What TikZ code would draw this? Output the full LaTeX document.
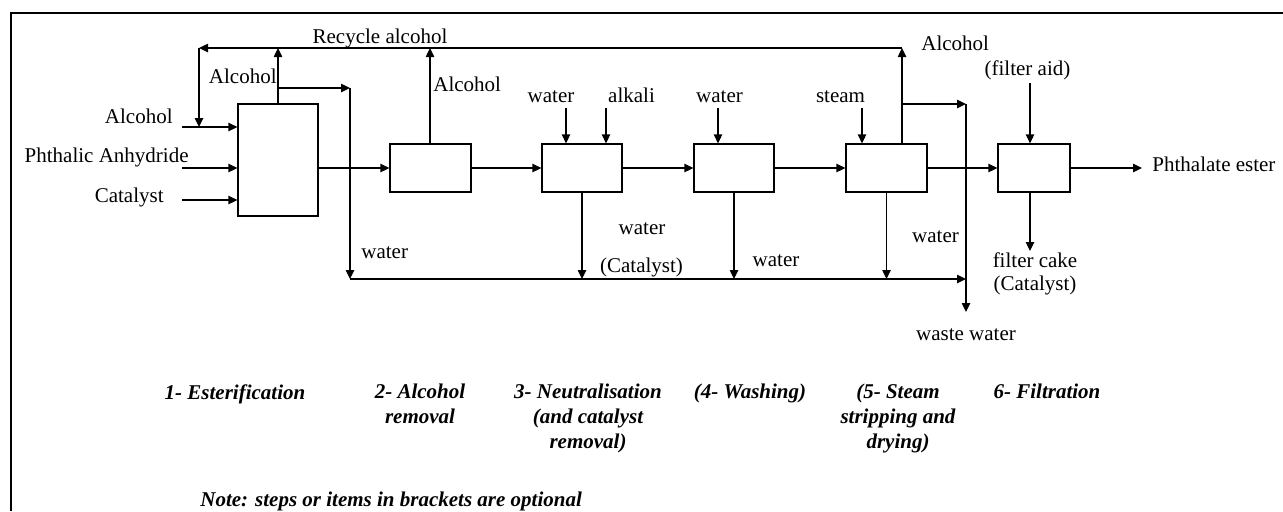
\documentclass[tikz,border=0pt]{standalone}
\usepackage{fontspec}
\setmainfont{Liberation Serif}
\usetikzlibrary{arrows.meta}
\begin{document}
\begin{tikzpicture}[x=0.5pt,y=-0.5pt,
  font=\fontsize{10.5pt}{12.5pt}\selectfont,
  flow/.style={line width=0.6pt, -{Triangle[length=4.5pt,width=4.2pt]}},
  unit/.style={draw, line width=0.6pt, rectangle, inner sep=0pt,
               minimum width=40pt, minimum height=24pt},
  lbl/.style={inner sep=0pt},
  stage/.style={inner sep=0pt, align=center, anchor=north,
                font=\fontsize{10.5pt}{12.5pt}\selectfont\bfseries\itshape},
]
\useasboundingbox (0,0) rectangle (1283,511);

% frame (top and left edges)
\draw[line width=1.25pt] (10,13) -- (1283,13);
\draw[line width=1.25pt] (11,13) -- (11,511);

% process units
\node[unit, minimum height=56pt] (b1) at (278,160) {};
\node[unit, minimum width=40.5pt] (b2) at (430.5,168) {};
\node[unit] (b3) at (582,168) {};
\node[unit] (b4) at (734,168) {};
\node[unit, minimum width=40.5pt] (b5) at (886.5,168) {};
\node[unit, minimum width=36pt] (b6) at (1034,168) {};

% main product stream
\coordinate (prod) at (1142,168);
\draw[flow] (b1.east |- b2.west) -- (b2.west);
\draw[flow] (b2) -- (b3);
\draw[flow] (b3) -- (b4);
\draw[flow] (b4) -- (b5);
\draw[flow] (b5) -- (b6);
\draw[flow] (b6) -- (prod);

% feeds to the esterification reactor
\coordinate (fin1) at (182,127);
\coordinate (fin2) at (182,168);
\coordinate (fin3) at (182,200);
\draw[flow] (fin1) -- (fin1 -| b1.west);
\draw[flow] (fin2) -- (fin2 -| b1.west);
\draw[flow] (fin3) -- (fin3 -| b1.west);

% alcohol recycle
\coordinate (top1) at (278,48);
\coordinate (top2) at (430,48);
\coordinate (top5) at (902,48);
\coordinate (rc) at (199,48);
\draw[flow] (b1.north) -- (top1);
\draw[flow] (b2.north -| top2) -- (top2);
\draw[flow] (b5.north -| top5) -- (top5);
\draw[flow] (top5) -- (rc);
\draw[flow] (rc) -- (rc |- fin1);

% water branches and collection header
\coordinate (br1) at (278,88);
\coordinate (dr1) at (350,88);
\coordinate (col0) at (350,279);
\coordinate (col1) at (966,279);
\coordinate (br5) at (902,104);
\coordinate (dr5) at (966,104);
\coordinate (waste) at (966,312);
\draw[flow] (br1) -- (dr1);
\draw[flow] (dr1) -- (col0);
\draw[flow] (col0) -- (col1);
\draw[flow] (br5) -- (dr5);
\draw[flow] (dr5) -- (waste);

% additions from above
\coordinate (in3a) at (566,108);
\coordinate (in3b) at (606,108);
\coordinate (in4) at (718,108);
\coordinate (in5) at (862,108);
\coordinate (in6) at (1030,83);
\draw[flow] (in3a) -- (in3a |- b3.north);
\draw[flow] (in3b) -- (in3b |- b3.north);
\draw[flow] (in4) -- (in4 |- b4.north);
\draw[flow] (in5) -- (in5 |- b5.north);
\draw[flow] (in6) -- (in6 |- b6.north);

% drains
\coordinate (cake) at (1030,251);
\draw[flow] (b3.south) -- (b3.south |- col0);
\draw[flow] (b4.south) -- (b4.south |- col0);
\draw[flow] (b5.south) -- (b5.south |- col0);
\draw[flow] (cake |- b6.south) -- (cake);

% stream labels
\node[lbl, anchor=base] (lrec) at (380,43) {Recycle alcohol};
\node[lbl, anchor=base east] (la1) at (277,83) {Alcohol};
\node[lbl, anchor=base east] (lf1) at (173,123) {Alcohol};
\node[lbl, anchor=base east] (lf2) at (189,162) {Phthalic Anhydride};
\node[lbl, anchor=base east] (lf3) at (164,202) {Catalyst};
\node[lbl, anchor=base west] (la2) at (433,91) {Alcohol};
\node[lbl, anchor=base] (lw3) at (551,102) {water};
\node[lbl, anchor=base] (lalk) at (631.5,102) {alkali};
\node[lbl, anchor=base] (lw4) at (719.5,102) {water};
\node[lbl, anchor=base] (lst) at (840.5,102) {steam};
\node[lbl, anchor=base west] (la5) at (921,50) {Alcohol};
\node[lbl, anchor=base] (lfa) at (1027.5,75) {(filter aid)};
\node[lbl, anchor=base west] (lprod) at (1152,171) {Phthalate ester};
\node[lbl, anchor=base west] (lw1) at (361,258) {water};
\node[lbl, anchor=base] (lw3b) at (642,234) {water};
\node[lbl, anchor=base] (lcat3) at (641.5,272) {(Catalyst)};
\node[lbl, anchor=base] (lw4b) at (776,266) {water};
\node[lbl, anchor=base] (lw5b) at (935.5,242) {water};
\node[lbl, anchor=base] (lcake) at (1035,267) {filter cake};
\node[lbl, anchor=base] (lcat6) at (1035,290) {(Catalyst)};
\node[lbl, anchor=base] (lwaste) at (966,340) {waste water};

% stage captions
\node[stage] (s1) at (235,384) {1- Esterification};
\node[stage] (s2) at (420,384) {2- Alcohol\\removal};
\node[stage] (s3) at (588,384) {3- Neutralisation\\(and catalyst\\removal)};
\node[stage] (s4) at (750,384) {(4- Washing)};
\node[stage] (s5) at (898,384) {(5- Steam\\stripping and\\drying)};
\node[stage] (s6) at (1047,384) {6- Filtration};
\node[stage, anchor=base west] (note) at (200,506) {Note: steps or items in brackets are optional};
\end{tikzpicture}
\end{document}
